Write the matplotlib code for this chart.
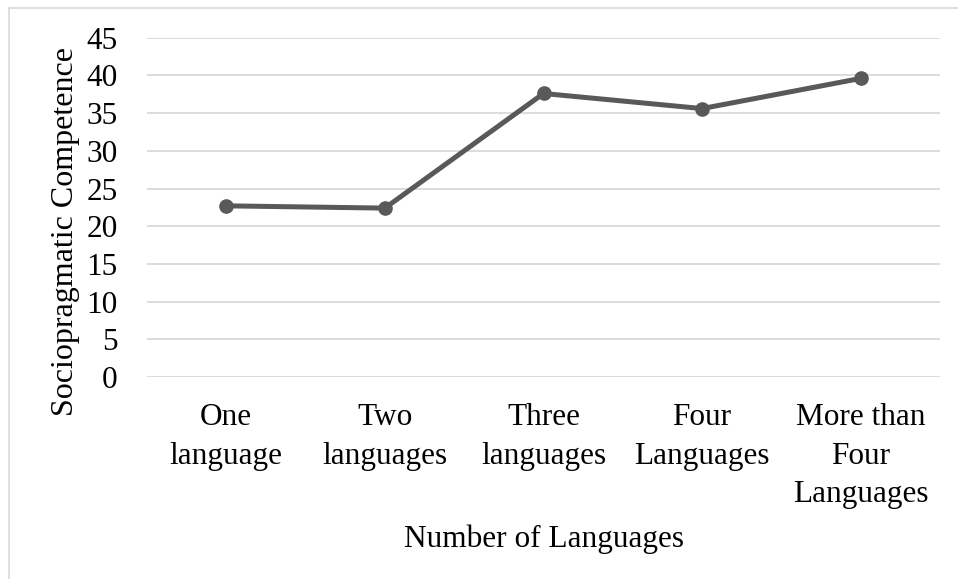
import matplotlib.pyplot as plt
from matplotlib.lines import Line2D

plt.rcParams['font.family'] = ['Liberation Serif', 'DejaVu Serif']

categories = ['One\nlanguage', 'Two\nlanguages', 'Three\nlanguages',
              'Four\nLanguages', 'More than\nFour\nLanguages']
scores = [22.7, 22.4, 37.6, 35.6, 39.6]
yticks = list(range(0, 50, 5))

fig = plt.figure(figsize=(9.58, 5.79), dpi=100)
ax = fig.add_axes([147 / 958, 1 - 377 / 579, (940 - 147) / 958, (377 - 37.7) / 579])

x = range(len(categories))
ax.plot(x, scores, color='#595959', linewidth=3.6, marker='o',
        markersize=9.5, solid_capstyle='round', zorder=3)

ax.set_xlim(-0.5, len(categories) - 0.5)
ax.set_ylim(0, 45)
ax.set_yticks(yticks)
ax.set_xticks(list(x))
ax.set_xticklabels(categories, linespacing=1.42)
ax.tick_params(axis='both', length=0, labelsize=22.5, colors='black')
ax.tick_params(axis='x', pad=19)
ax.tick_params(axis='y', pad=21)
ax.grid(axis='y', color='#d9d9d9', linewidth=1.3)
ax.set_axisbelow(True)
for s in ax.spines.values():
    s.set_visible(False)

ax.set_xlabel('Number of Languages', fontsize=22.5, labelpad=11)
ax.set_ylabel('Sociopragmatic Competence', fontsize=23)
ax.yaxis.set_label_coords(-0.084, 0.43)

# chart area border (top and left edges only show)
bx, by = 8.5 / 958, 1 - 7.5 / 579
fig.lines.append(Line2D([bx, 1.0], [by, by], transform=fig.transFigure,
                        color='#d9d9d9', linewidth=1.2))
fig.lines.append(Line2D([bx, bx], [0.0, by], transform=fig.transFigure,
                        color='#d9d9d9', linewidth=1.2))

fig.savefig('out.png', dpi=100)
